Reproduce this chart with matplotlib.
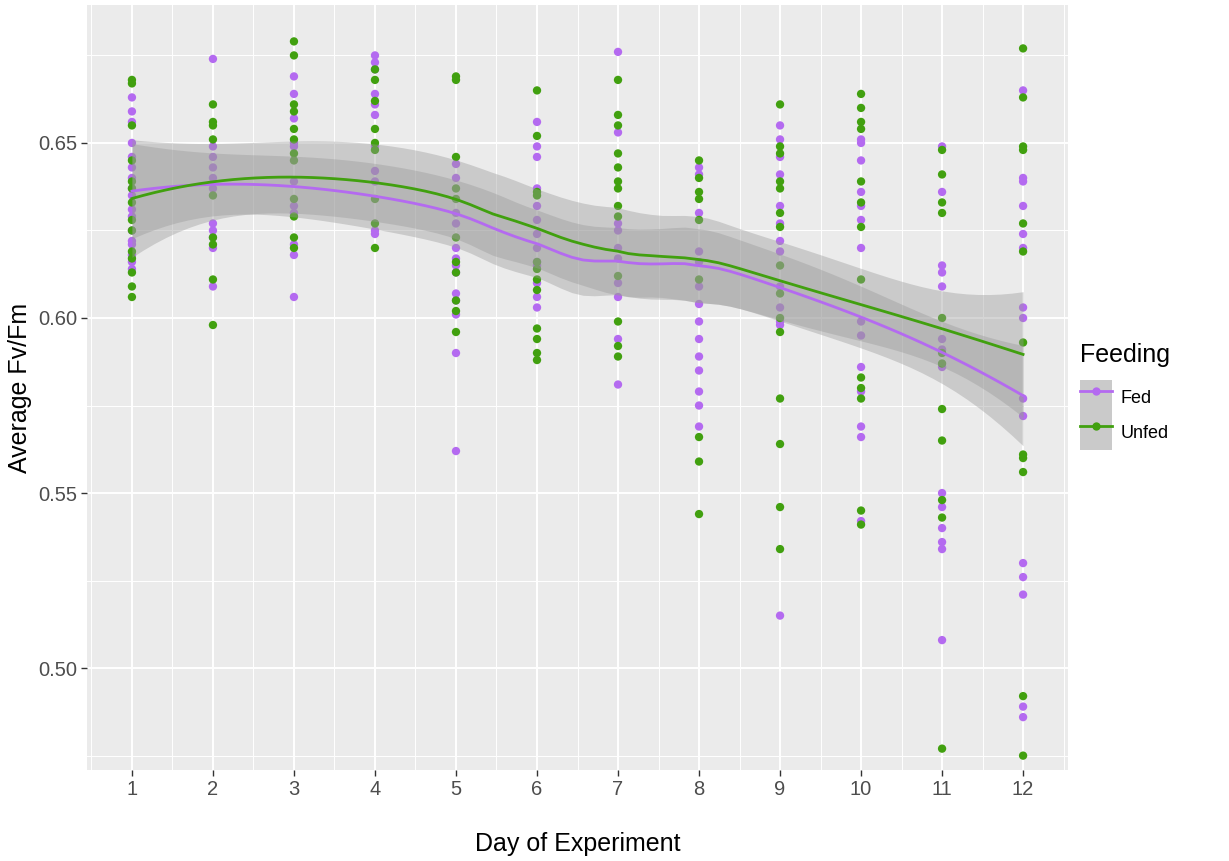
import numpy as np
import matplotlib
matplotlib.use("Agg")
import matplotlib.pyplot as plt
from matplotlib.lines import Line2D
from matplotlib.patches import Patch

plt.rcParams['font.family'] = ['Liberation Sans', 'DejaVu Sans']

days = list(range(1, 13))

fed = {
    1: [0.663, 0.659, 0.656, 0.650, 0.646, 0.643, 0.640, 0.637, 0.635, 0.631, 0.629, 0.625, 0.622, 0.621, 0.618, 0.616, 0.614],
    2: [0.674, 0.649, 0.646, 0.643, 0.640, 0.637, 0.627, 0.625, 0.623, 0.620, 0.609],
    3: [0.669, 0.664, 0.657, 0.650, 0.649, 0.639, 0.632, 0.630, 0.621, 0.618, 0.606],
    4: [0.675, 0.673, 0.671, 0.664, 0.661, 0.658, 0.649, 0.642, 0.639, 0.625, 0.624],
    5: [0.644, 0.640, 0.630, 0.627, 0.620, 0.617, 0.615, 0.613, 0.607, 0.605, 0.601, 0.590, 0.562],
    6: [0.656, 0.649, 0.646, 0.637, 0.632, 0.628, 0.624, 0.620, 0.616, 0.615, 0.610, 0.606, 0.603],
    7: [0.676, 0.653, 0.627, 0.625, 0.620, 0.617, 0.610, 0.606, 0.594, 0.581],
    8: [0.643, 0.641, 0.630, 0.619, 0.616, 0.609, 0.604, 0.599, 0.594, 0.589, 0.585, 0.579, 0.575, 0.569],
    9: [0.655, 0.651, 0.646, 0.641, 0.632, 0.627, 0.622, 0.619, 0.609, 0.603, 0.599, 0.598, 0.515],
    10: [0.651, 0.650, 0.645, 0.636, 0.632, 0.628, 0.620, 0.599, 0.595, 0.586, 0.579, 0.569, 0.566, 0.542],
    11: [0.649, 0.636, 0.615, 0.613, 0.609, 0.594, 0.591, 0.586, 0.550, 0.546, 0.540, 0.536, 0.534, 0.508],
    12: [0.665, 0.640, 0.639, 0.632, 0.624, 0.620, 0.603, 0.600, 0.577, 0.572, 0.530, 0.526, 0.521, 0.489, 0.486],
}

unfed = {
    1: [0.668, 0.667, 0.655, 0.645, 0.639, 0.637, 0.633, 0.628, 0.625, 0.619, 0.617, 0.613, 0.609, 0.606],
    2: [0.661, 0.656, 0.655, 0.651, 0.635, 0.623, 0.621, 0.611, 0.598],
    3: [0.679, 0.675, 0.661, 0.659, 0.654, 0.651, 0.647, 0.645, 0.634, 0.629, 0.623, 0.620],
    4: [0.671, 0.668, 0.662, 0.654, 0.650, 0.648, 0.634, 0.627, 0.620],
    5: [0.669, 0.668, 0.646, 0.637, 0.634, 0.623, 0.616, 0.613, 0.605, 0.602, 0.596],
    6: [0.665, 0.652, 0.636, 0.635, 0.616, 0.614, 0.611, 0.608, 0.597, 0.594, 0.590, 0.588],
    7: [0.668, 0.658, 0.655, 0.647, 0.643, 0.639, 0.637, 0.632, 0.629, 0.612, 0.599, 0.592, 0.589],
    8: [0.645, 0.640, 0.636, 0.634, 0.628, 0.611, 0.566, 0.559, 0.544],
    9: [0.661, 0.649, 0.647, 0.639, 0.637, 0.630, 0.626, 0.615, 0.607, 0.600, 0.596, 0.577, 0.564, 0.546, 0.534],
    10: [0.664, 0.660, 0.656, 0.654, 0.639, 0.633, 0.626, 0.611, 0.583, 0.580, 0.577, 0.545, 0.541],
    11: [0.648, 0.641, 0.633, 0.630, 0.600, 0.590, 0.587, 0.574, 0.565, 0.548, 0.543, 0.477],
    12: [0.677, 0.663, 0.649, 0.648, 0.627, 0.619, 0.593, 0.561, 0.560, 0.556, 0.492, 0.475],
}

groups = ['Fed', 'Unfed']
colors = {'Fed': '#B46AF0', 'Unfed': '#41A00F'}
y_ticks = [0.50, 0.55, 0.60, 0.65]


def flatten(d):
    x = np.concatenate([[k] * len(v) for k, v in d.items()]).astype(float)
    y = np.concatenate([v for v in d.values()]).astype(float)
    return x, y


def loess_weights(x, x0, span):
    n = len(x)
    q = int(np.floor(n * span))
    d = np.abs(x - x0)
    h = np.sort(d)[q - 1]
    u = np.clip(d / h, 0, 1)
    w = (1 - u ** 3) ** 3
    X = np.column_stack([np.ones(n), x - x0, (x - x0) ** 2])
    XtW = X.T * w
    return np.linalg.solve(XtW @ X, XtW)[0]


# loess (degree 2, span 0.75) with 95% band, like geom_smooth
def loess_fit(x, y, xs, span=0.75):
    n = len(x)
    L = np.array([loess_weights(x, xi, span) for xi in x])
    Ls = np.array([loess_weights(x, xi, span) for xi in xs])
    fit = Ls @ y
    IL = np.eye(n) - L
    A = IL.T @ IL
    d1 = np.trace(A)
    d2 = np.trace(A @ A)
    res = y - L @ y
    sigma = np.sqrt(np.sum(res ** 2) / d1)
    se = sigma * np.sqrt(np.sum(Ls ** 2, axis=1))
    df = d1 ** 2 / d2
    z = 1.959964
    t = z + (z ** 3 + z) / (4 * df) + (5 * z ** 5 + 16 * z ** 3 + 3 * z) / (96 * df ** 2)
    return fit, fit - t * se, fit + t * se


fig = plt.figure(figsize=(12.29, 8.61), dpi=100)
ax = fig.add_axes([0.0711, 0.1057, 0.7976, 0.8885])
ax.set_facecolor('#EBEBEB')

xs = np.linspace(1, 12, 80)
for g, d in zip(groups, [fed, unfed]):
    x, y = flatten(d)
    ax.scatter(x, y, s=36, color=colors[g], edgecolors='none', zorder=2)
for g, d in zip(groups, [fed, unfed]):
    x, y = flatten(d)
    fit, lo, hi = loess_fit(x, y, xs)
    ax.fill_between(xs, lo, hi, color='#999999', alpha=0.4, linewidth=0, zorder=3)
    ax.plot(xs, fit, color=colors[g], lw=2.0, zorder=4)

ax.set_xlim(0.45, 12.55)
ax.set_ylim(0.4709, 0.6894)
ax.set_xticks(days)
ax.set_xticks(np.arange(0.5, 13, 1), minor=True)
ax.set_yticks(y_ticks)
ax.set_yticklabels([f'{v:.2f}' for v in y_ticks])
ax.set_yticks([0.475, 0.525, 0.575, 0.625, 0.675], minor=True)
ax.grid(which='major', color='white', lw=1.4)
ax.grid(which='minor', color='white', lw=0.7)
ax.set_axisbelow(True)
for s in ax.spines.values():
    s.set_visible(False)
ax.tick_params(which='major', length=4, width=1, color='#333333', labelcolor='#4D4D4D',
               labelsize=14.5, pad=3)
ax.tick_params(which='minor', length=0)
ax.set_xlabel('Day of Experiment', fontsize=18, color='black', labelpad=24)
ax.set_ylabel('Average Fv/Fm', fontsize=18, color='black', labelpad=5)

# legend: title as separate text so the gap above the keys can be set
fig.text(1080 / 1229, 1 - 355 / 861, 'Feeding', fontsize=18, va='center', ha='left')
handles = [(Patch(facecolor='#CACACA', edgecolor='none'),
            Line2D([], [], color=colors[g], lw=2, marker='o', ms=6, mec='none')) for g in groups]
leg = fig.legend(handles, groups, loc='upper left', bbox_to_anchor=(1080 / 1229, 1 - 380 / 861),
                 frameon=False, fontsize=13, handlelength=1.77, handleheight=2.59,
                 labelspacing=0.0, handletextpad=0.5, borderpad=0.0, borderaxespad=0.0)

fig.savefig('out.png', dpi=100)
